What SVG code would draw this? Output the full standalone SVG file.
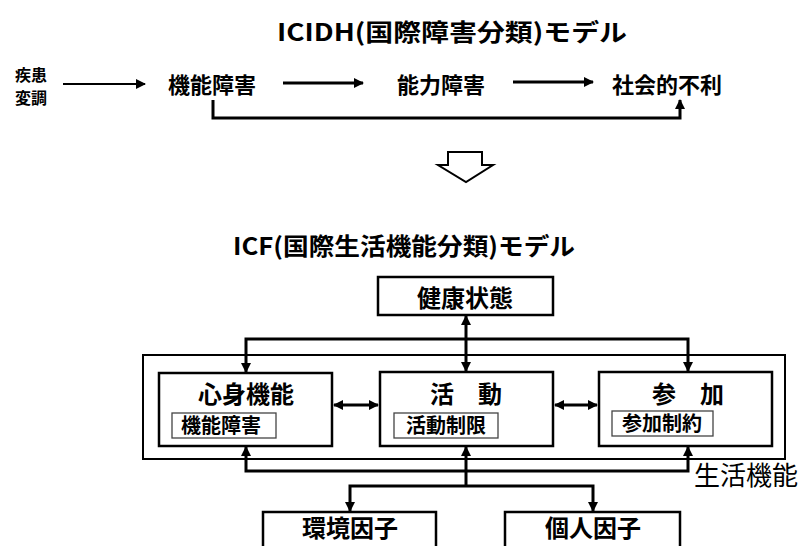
<svg xmlns="http://www.w3.org/2000/svg" width="803" height="546" viewBox="0 0 803 546">
<style>
text{font-family:"Noto Sans CJK JP","Noto Sans",sans-serif;fill:#000;}
.t{font-size:24px;font-weight:bold;text-anchor:middle;}
.h{font-size:24px;font-weight:bold;}
.r{font-size:22px;font-weight:bold;text-anchor:middle;}
.m{font-size:24px;font-weight:bold;text-anchor:middle;}
.s{font-size:20px;font-weight:bold;text-anchor:middle;}
.k{font-size:16px;font-weight:bold;text-anchor:middle;}
.box{fill:#fff;stroke:#000;stroke-width:2.5;}
.sub{fill:#fff;stroke:#444;stroke-width:1.3;}
.ln{fill:none;stroke:#000;stroke-width:3;}
.thin{fill:none;stroke:#000;stroke-width:2;}
</style>
<defs>
<marker id="ah" viewBox="0 0 10 10" refX="9" refY="5" markerUnits="userSpaceOnUse" markerWidth="11" markerHeight="10" orient="auto-start-reverse">
<path d="M0,0 L10,5 L0,10 Z" fill="#000"/>
</marker>
</defs>

<text class="h" x="277" y="41" textLength="350" lengthAdjust="spacingAndGlyphs">ICIDH(国際障害分類)モデル</text>

<g id="shikkan"><text class="k" x="31" y="81">疾患</text><text class="k" x="31" y="104">変調</text></g>
<g id="kinou-shougai"><text class="r" x="212" y="93">機能障害</text></g>
<g id="nouryoku-shougai"><text class="r" x="441" y="93">能力障害</text></g>
<g id="shakaiteki-furi"><text class="r" x="667" y="93">社会的不利</text></g>

<g id="down-arrow"><path d="M448,152 H482 V165 H493 L466,182 L438,165 H448 Z" fill="#fff" stroke="#000" stroke-width="2"/></g>

<text class="h" x="233" y="255" textLength="342" lengthAdjust="spacingAndGlyphs">ICF(国際生活機能分類)モデル</text>

<g id="seikatsu-kinou"><rect x="143" y="355" width="642" height="104" fill="none" stroke="#000" stroke-width="2"/><text x="746" y="485" style="font-size:26px;text-anchor:middle">生活機能</text></g>

<g id="kenkou"><rect class="box" x="378" y="277" width="175" height="38"/><text class="t" x="465" y="307">健康状態</text></g>

<g id="shinshin"><rect class="box" x="159" y="373" width="173" height="73"/><text class="m" x="246" y="403">心身機能</text><rect class="sub" x="172" y="413" width="104" height="25"/><text class="s" x="221" y="433">機能障害</text></g>

<g id="katsudou"><rect class="box" x="380" y="372" width="173" height="74"/><text class="m" x="466" y="403">活　動</text><rect class="sub" x="394" y="413" width="104" height="25"/><text class="s" x="446" y="433">活動制限</text></g>

<g id="sanka"><rect class="box" x="599" y="372" width="173" height="74"/><text class="m" x="688" y="403">参　加</text><rect class="sub" x="612" y="411" width="101" height="25"/><text class="s" x="662" y="431">参加制約</text></g>

<g id="kankyou"><rect class="box" x="263" y="512" width="173" height="45"/><text class="t" x="350" y="537">環境因子</text></g>
<g id="kojin"><rect class="box" x="505" y="512" width="175" height="45"/><text class="t" x="593" y="537">個人因子</text></g>

<g id="connectors">
<path class="thin" d="M63,84 H145" marker-end="url(#ah)"/>
<path class="ln" d="M283,83 H363" marker-end="url(#ah)"/>
<path class="ln" d="M513,82 H593" marker-end="url(#ah)"/>
<path class="ln" d="M213,100 V118 H680 V100" marker-end="url(#ah)"/>

<path class="ln" d="M466,316 V371" marker-start="url(#ah)" marker-end="url(#ah)"/>
<path class="ln" d="M466,339 H246 V372" marker-end="url(#ah)"/>
<path class="ln" d="M466,339 H688 V371" marker-end="url(#ah)"/>
<path class="ln" d="M466,471 H246 V447" marker-end="url(#ah)"/>
<path class="ln" d="M466,471 H688 V447" marker-end="url(#ah)"/>
<path class="ln" d="M466,486 V447" marker-end="url(#ah)"/>
<path class="ln" d="M466,486 H350 V511" marker-end="url(#ah)"/>
<path class="ln" d="M466,486 H593 V511" marker-end="url(#ah)"/>
<path class="ln" d="M334,405 H378" marker-start="url(#ah)" marker-end="url(#ah)"/>
<path class="ln" d="M555,405 H597" marker-start="url(#ah)" marker-end="url(#ah)"/>
</g>
</svg>
